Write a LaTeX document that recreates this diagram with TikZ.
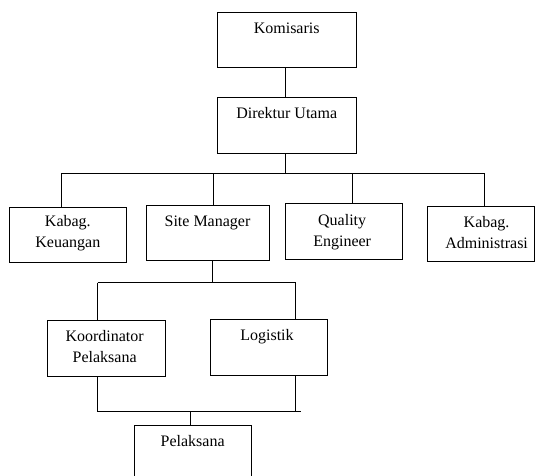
\documentclass[tikz,border=0pt]{standalone}
\usepackage{fontspec}
\setmainfont{Liberation Serif}
\usetikzlibrary{calc}
\tikzset{
  box/.style={draw=black, line width=0.9pt, rectangle, inner sep=0pt},
  txt/.style={inner sep=0pt, anchor=base, align=center, font=\fontsize{16pt}{21pt}\selectfont},
  conn/.style={draw=black, line width=0.9pt}
}
\begin{document}
\begin{tikzpicture}[x=1pt,y=-1pt]
\clip (0,0) rectangle (536,476);
\fill[white] (0,0) rectangle (536,476);
% boxes
\node[box, minimum width=138.7pt, minimum height=55.2pt] (kom) at (286.7,39.9) {};
\node[box, minimum width=138.7pt, minimum height=55.6pt] (dir) at (286.7,125.5) {};
\node[box, minimum width=117.7pt, minimum height=55.2pt] (kk) at (67.85,234.9) {};
\node[box, minimum width=123pt, minimum height=55pt] (sm) at (207.5,233) {};
\node[box, minimum width=117.3pt, minimum height=55.8pt] (qe) at (343.65,231.4) {};
\node[box, minimum width=106.8pt, minimum height=55pt] (ka) at (481.1,234.2) {};
\node[box, minimum width=117.7pt, minimum height=55.3pt] (ko) at (106.15,348.35) {};
\node[box, minimum width=117pt, minimum height=55.7pt] (lo) at (268.5,347.15) {};
\node[box, minimum width=116.7pt, minimum height=55.3pt] (pe) at (192.65,453.35) {};
% texts
\node[txt] (komt) at ($(kom.north)+(0,21.5)$) {Komisaris};
\node[txt] (dirt) at ($(dir.north)+(0,21.5)$) {Direktur Utama};
\node[txt] (kkt) at ($(kk.north)+(0,41)$) {Kabag.\\Keuangan};
\node[txt] (smt) at ($(sm.north)+(0,21.2)$) {Site Manager};
\node[txt] (qet) at ($(qe.north)+(-1.5,43)$) {Quality\\Engineer};
\node[txt] (kat) at ($(ka.north)+(5.5,42.5)$) {Kabag.\\Administrasi};
\node[txt] (kot) at ($(ko.north)+(-1.5,42.5)$) {Koordinator\\Pelaksana};
\node[txt] (lot) at ($(lo.north)+(-1.5,21.2)$) {Logistik};
\node[txt] (pet) at ($(pe.north)+(0,21.5)$) {Pelaksana};
% bus coordinates
\coordinate (bd) at (285,173.4);
\coordinate (b1) at (61,173.4);
\coordinate (b2) at (213,173.4);
\coordinate (b3) at (352,173.4);
\coordinate (b4) at (484.3,173.4);
\coordinate (s1) at (212.5,282.7);
\coordinate (l1) at (97.7,282.7);
\coordinate (r1) at (295.7,282.7);
\coordinate (l2) at (97.7,411.5);
\coordinate (r2) at (295.7,411.5);
\coordinate (r2e) at (300.7,411.5);
\coordinate (p2) at (190.7,411.5);
% connectors
\draw[conn] (kom.south -| bd) -- (dir.north -| bd);
\draw[conn] (dir.south -| bd) -- (bd);
\draw[conn] (b1) -- (b4);
\draw[conn] (b1) -- (kk.north -| b1);
\draw[conn] (b2) -- (sm.north -| b2);
\draw[conn] (b3) -- (qe.north -| b3);
\draw[conn] (b4) -- (ka.north -| b4);
\draw[conn] (sm.south -| s1) -- (s1);
\draw[conn] (l1) -- (r1);
\draw[conn] (l1) -- (ko.north -| l1);
\draw[conn] (r1) -- (lo.north -| r1);
\draw[conn] (ko.south -| l2) -- (l2);
\draw[conn] (lo.south -| r2) -- (r2);
\draw[conn] (l2) -- (r2e);
\draw[conn] (p2) -- (pe.north -| p2);
\end{tikzpicture}
\end{document}
